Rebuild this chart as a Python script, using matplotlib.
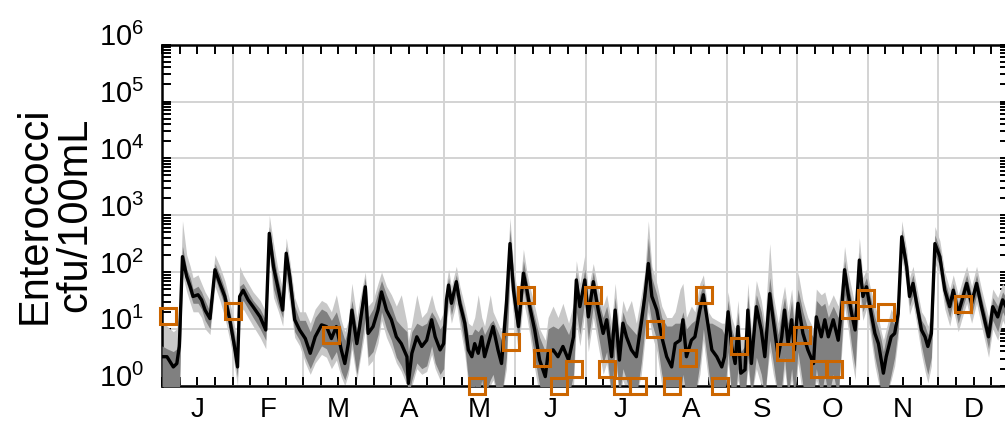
import numpy as np
import matplotlib
matplotlib.use("Agg")
import matplotlib.pyplot as plt
import matplotlib.transforms as mtransforms
from matplotlib.ticker import LogLocator, NullFormatter, FixedLocator

plt.rcParams['font.family'] = ['Liberation Sans', 'DejaVu Sans']
plt.rcParams['mathtext.fontset'] = 'custom'
plt.rcParams['mathtext.rm'] = 'Liberation Sans'
plt.rcParams['mathtext.it'] = 'Liberation Sans:italic'
plt.rcParams['mathtext.bf'] = 'Liberation Sans:bold'

# months (x axis, in months from 1 Jan)
months = ['J', 'F', 'M', 'A', 'M', 'J', 'J', 'A', 'S', 'O', 'N', 'D']
decades = [0, 1, 2, 3, 4, 5, 6]

# model vertices: position in months
t_month = [
    0.00, 0.07, 0.16, 0.21, 0.245, 0.29, 0.35, 0.40, 0.44, 0.51, 0.56, 0.61, 0.68, 0.75, 0.82, 0.89, 0.96,
    1.02, 1.07, 1.10, 1.15, 1.22, 1.29, 1.39, 1.47, 1.52, 1.58, 1.65, 1.71, 1.76, 1.81, 1.88, 1.95,
    2.03, 2.10, 2.17, 2.26, 2.33, 2.40, 2.47, 2.54, 2.59, 2.64, 2.69, 2.76, 2.80, 2.88, 2.92, 2.99,
    3.06, 3.11, 3.18, 3.25, 3.32, 3.39, 3.47, 3.49, 3.54, 3.61, 3.68, 3.75, 3.82, 3.87, 3.94, 3.99, 4.03,
    4.06, 4.10, 4.17, 4.22, 4.29, 4.34, 4.39, 4.43, 4.48, 4.53, 4.57, 4.65, 4.69, 4.76, 4.81, 4.88, 4.93, 4.98,
    5.05, 5.12, 5.17, 5.21, 5.28, 5.35, 5.43, 5.47, 5.54, 5.61, 5.68, 5.76, 5.83, 5.87, 5.92,
    5.99, 6.04, 6.11, 6.18, 6.25, 6.30, 6.37, 6.42, 6.48, 6.53, 6.58, 6.65, 6.72, 6.79, 6.84, 6.89, 6.94,
    7.01, 7.08, 7.15, 7.22, 7.27, 7.34, 7.38, 7.43, 7.50, 7.55, 7.62, 7.67, 7.74, 7.79, 7.86, 7.93, 7.97,
    8.02, 8.07, 8.12, 8.16, 8.20, 8.26, 8.30, 8.35, 8.42, 8.49, 8.54, 8.61, 8.66, 8.73, 8.78, 8.82, 8.87, 8.92, 8.96,
    9.01, 9.08, 9.15, 9.23, 9.27, 9.34, 9.39, 9.44, 9.51, 9.58, 9.63, 9.67, 9.72, 9.77, 9.82, 9.88,
    9.93, 9.98, 10.03, 10.10, 10.15, 10.19, 10.22, 10.26, 10.33, 10.38, 10.43, 10.48, 10.55, 10.59, 10.64, 10.69,
    10.76, 10.81, 10.85, 10.90, 10.95, 11.02, 11.09, 11.16, 11.21, 11.28, 11.35, 11.40, 11.47, 11.54, 11.61,
    11.71, 11.77, 11.84, 11.91, 11.98, 12.00,
]

# model median, log10(cfu/100mL)
median_log = [
    0.51, 0.51, 0.33, 0.39, 0.69, 2.27, 1.92, 1.74, 1.57, 1.60, 1.51, 1.33, 1.18, 2.04, 1.80, 1.57, 1.16,
    0.74, 0.33, 1.57, 1.68, 1.51, 1.39, 1.21, 0.98, 2.68, 2.09, 1.68, 1.33, 2.33, 1.92, 1.16, 0.98,
    0.83, 0.57, 0.86, 1.07, 1.04, 0.83, 1.04, 0.63, 0.39, 0.74, 1.33, 0.74, 1.04, 1.74, 0.92, 1.04,
    1.33, 1.65, 1.33, 1.16, 0.86, 0.74, 0.51, 0.04, 0.57, 0.86, 0.69, 0.80, 1.16, 0.86, 0.63, 0.74, 1.51,
    1.77, 1.45, 1.83, 1.45, 1.10, 0.63, 0.51, 0.74, 0.57, 0.86, 0.51, 0.86, 1.04, 0.63, 0.39, 1.45, 2.50, 1.68,
    1.04, 1.98, 1.68, 1.39, 0.98, 0.45, 0.16, 0.57, 0.63, 0.51, 0.69, 0.45, 0.86, 1.86, 1.39,
    1.86, 1.21, 1.83, 1.33, 0.92, 1.16, 0.51, 1.33, 0.45, 1.10, 0.86, 0.63, 0.51, 1.10, 1.57, 2.15, 1.57,
    1.33, 0.86, 0.51, 0.33, 0.74, 0.80, 1.16, 0.51, 0.80, 0.86, 1.33, 1.60, 1.04, 0.63, 0.51, 0.33, 0.51,
    1.30, 0.69, 0.39, 1.04, 0.22, 0.28, 1.33, 0.39, 1.39, 0.98, 0.51, 1.62, 1.16, 0.51, 0.86, 1.33, 0.74, 1.16, 0.63,
    1.45, 0.92, 0.63, 0.39, 1.21, 0.86, 1.16, 0.86, 1.16, 0.80, 1.39, 2.04, 1.62, 1.27, 0.98, 2.21,
    1.57, 1.74, 1.39, 0.92, 0.74, 0.45, 0.22, 0.51, 0.86, 0.92, 1.27, 2.62, 2.09, 1.57, 1.80, 1.45,
    0.98, 0.86, 0.69, 0.92, 2.50, 2.27, 1.68, 1.39, 1.68, 1.27, 1.57, 1.80, 1.45, 1.80, 1.39,
    0.86, 1.39, 1.21, 1.51, 1.33, 1.30,
]

# inner band (dark grey), log10
inner_lo = [
    -0.2, -0.2, -0.2, -0.2, -0.2, 2.1, 1.8, 1.6, 1.45, 1.45, 1.35, 1.15, 1.0, 1.9, 1.65, 1.4, 0.95,
    0.55, 0.15, 1.4, 1.5, 1.35, 1.2, 1.0, 0.8, 2.45, 1.7, 1.4, 1.2, 2.0, 1.6, 0.95, 0.8,
    0.5, 0.3, 0.5, 0.7, 0.65, 0.45, 0.6, 0.25, 0.1, 0.3, 0.8, 0.2, 0.5, 1.2, 0.5, 0.6,
    0.9, 1.3, 1.0, 0.8, 0.5, 0.35, 0.1, -0.2, 0.1, 0.4, 0.3, 0.35, 0.7, 0.4, 0.2, 0.3, 1.2,
    1.55, 1.25, 1.6, 1.2, 0.7, 0.1, -0.2, 0.0, -0.2, 0.1, -0.2, 0.1, 0.2, -0.2, -0.2, 0.5, 2.1, 1.4,
    0.8, 1.7, 1.4, 1.05, 0.5, 0.0, -0.2, -0.2, -0.2, -0.2, -0.2, -0.2, 0.2, 1.3, 0.9,
    1.5, 0.8, 1.4, 0.9, 0.4, 0.6, -0.2, 0.7, -0.2, 0.3, 0.1, -0.2, -0.2, 0.4, 1.0, 1.5, 1.1,
    0.8, 0.2, -0.2, -0.2, -0.2, -0.2, 0.2, -0.2, -0.2, -0.2, 0.4, 1.0, 0.3, -0.2, -0.2, -0.2, -0.2,
    0.6, -0.2, -0.2, 0.3, -0.2, -0.2, 0.5, -0.2, 0.5, 0.2, -0.2, 0.8, 0.4, -0.2, 0.0, 0.5, -0.2, 0.3, -0.2,
    0.6, 0.0, -0.2, -0.2, 0.3, -0.2, 0.2, -0.2, 0.2, -0.2, 0.8, 1.6, 1.2, 0.7, 0.3, 1.8,
    1.3, 1.5, 1.1, 0.5, 0.2, -0.2, -0.2, -0.2, 0.2, 0.5, 1.0, 2.4, 1.9, 1.4, 1.6, 1.25,
    0.7, 0.4, 0.2, 0.5, 2.3, 2.1, 1.5, 1.2, 1.5, 1.1, 1.4, 1.6, 1.25, 1.6, 1.2,
    0.65, 1.15, 0.95, 1.3, 1.1, 1.1,
]
inner_hi = [
    0.7, 0.65, 0.6, 0.65, 1.0, 2.45, 2.05, 1.9, 1.7, 1.75, 1.65, 1.5, 1.3, 2.15, 1.95, 1.7, 1.3,
    0.95, 0.55, 1.75, 1.8, 1.65, 1.5, 1.35, 1.15, 2.8, 2.3, 1.85, 1.55, 2.45, 2.05, 1.4, 1.15,
    1.15, 0.95, 1.2, 1.35, 1.3, 1.15, 1.3, 1.0, 0.8, 1.0, 1.5, 1.0, 1.3, 1.9, 1.2, 1.35,
    1.65, 1.85, 1.6, 1.4, 1.15, 1.05, 0.95, 0.6, 0.95, 1.1, 1.05, 1.1, 1.3, 1.2, 1.0, 1.1, 1.7,
    1.9, 1.6, 1.95, 1.6, 1.25, 0.9, 0.9, 1.0, 0.95, 1.05, 0.9, 1.1, 1.15, 0.95, 0.8, 1.7, 2.75, 1.95,
    1.3, 2.2, 1.85, 1.55, 1.2, 0.85, 0.6, 1.0, 1.05, 1.0, 1.1, 0.9, 1.2, 2.0, 1.55,
    2.05, 1.5, 2.0, 1.5, 1.2, 1.4, 0.9, 1.55, 0.8, 1.3, 1.1, 1.0, 0.9, 1.4, 1.8, 2.6, 1.9,
    1.6, 1.2, 1.05, 1.05, 1.1, 1.1, 1.3, 1.0, 1.1, 1.15, 1.6, 1.8, 1.1, 1.1, 1.05, 1.0, 0.9,
    1.5, 1.0, 0.8, 1.3, 0.6, 0.7, 1.6, 0.8, 1.6, 1.3, 0.9, 1.9, 1.4, 0.9, 1.3, 1.55, 1.1, 1.5, 1.0,
    1.7, 1.3, 1.0, 0.85, 1.5, 1.4, 1.45, 1.2, 1.4, 1.2, 1.65, 2.2, 1.8, 1.5, 1.2, 2.35,
    1.75, 1.9, 1.6, 1.2, 1.0, 0.8, 0.6, 0.85, 1.2, 1.05, 1.4, 2.75, 2.25, 1.75, 1.95, 1.6,
    1.15, 1.05, 0.9, 1.1, 2.65, 2.4, 1.85, 1.55, 1.8, 1.45, 1.75, 1.95, 1.6, 1.95, 1.55,
    1.05, 1.55, 1.4, 1.65, 1.5, 1.45,
]

# outer band (light grey), log10
outer_lo = [
    -0.2, -0.2, -0.2, -0.2, -0.2, 1.95, 1.65, 1.45, 1.3, 1.3, 1.2, 1.0, 0.9, 1.75, 1.5, 1.2, 0.8,
    0.4, 0.0, 1.2, 1.35, 1.2, 1.05, 0.85, 0.65, 2.3, 1.55, 1.3, 1.05, 1.85, 1.45, 0.85, 0.7,
    0.4, 0.2, 0.4, 0.55, 0.5, 0.3, 0.45, 0.15, 0.0, 0.2, 0.65, 0.1, 0.4, 1.0, 0.35, 0.45,
    0.75, 1.15, 0.85, 0.65, 0.4, 0.25, 0.0, -0.2, 0.0, 0.3, 0.2, 0.25, 0.55, 0.3, 0.1, 0.2, 1.05,
    1.4, 1.1, 1.45, 1.05, 0.55, 0.0, -0.2, -0.2, -0.2, 0.0, -0.2, 0.0, 0.1, -0.2, -0.2, 0.3, 1.9, 1.2,
    0.6, 1.5, 1.2, 0.9, 0.3, -0.2, -0.2, -0.2, -0.2, -0.2, -0.2, -0.2, 0.0, 1.1, 0.7,
    1.3, 0.6, 1.2, 0.7, 0.2, 0.4, -0.2, 0.5, -0.2, 0.1, -0.1, -0.2, -0.2, 0.2, 0.8, 1.3, 0.9,
    0.6, 0.0, -0.2, -0.2, -0.2, -0.2, 0.0, -0.2, -0.2, -0.2, 0.2, 0.8, 0.1, -0.2, -0.2, -0.2, -0.2,
    0.4, -0.2, -0.2, 0.1, -0.2, -0.2, 0.3, -0.2, 0.3, 0.0, -0.2, 0.6, 0.2, -0.2, -0.2, 0.3, -0.2, 0.1, -0.2,
    0.4, -0.2, -0.2, -0.2, 0.1, -0.2, 0.0, -0.2, 0.0, -0.2, 0.6, 1.4, 1.0, 0.5, 0.1, 1.6,
    1.15, 1.35, 0.95, 0.35, 0.05, -0.2, -0.2, -0.2, 0.1, 0.35, 0.85, 2.25, 1.75, 1.25, 1.45, 1.1,
    0.55, 0.25, 0.05, 0.35, 2.15, 1.95, 1.35, 1.05, 1.35, 0.95, 1.25, 1.45, 1.1, 1.45, 1.05,
    0.5, 1.0, 0.8, 1.15, 0.95, 0.95,
]
outer_hi = [
    1.1, 1.05, 0.95, 1.0, 1.3, 2.9, 2.3, 2.1, 1.9, 1.95, 1.8, 1.65, 1.5, 2.3, 2.1, 1.85, 1.5,
    1.1, 0.75, 2.1, 1.95, 1.8, 1.65, 1.5, 1.3, 3.0, 2.5, 2.0, 1.7, 2.6, 2.2, 1.55, 1.3,
    1.3, 1.1, 1.35, 1.5, 1.45, 1.3, 1.6, 1.15, 0.95, 1.15, 1.8, 1.2, 1.5, 2.0, 1.4, 1.5,
    1.8, 2.0, 1.75, 1.6, 1.4, 1.6, 1.1, 0.8, 1.1, 1.6, 1.2, 1.3, 1.6, 1.35, 1.15, 1.3, 1.8,
    2.05, 1.75, 2.1, 1.75, 1.4, 1.1, 1.05, 1.2, 1.6, 1.2, 1.05, 1.6, 1.3, 1.1, 0.95, 1.9, 2.95, 2.1,
    1.5, 2.4, 2.0, 1.75, 1.4, 1.0, 0.8, 1.2, 1.4, 1.2, 1.45, 1.1, 1.45, 2.2, 1.8,
    2.3, 1.7, 2.15, 1.7, 1.4, 1.6, 1.1, 1.8, 1.0, 1.5, 1.3, 1.5, 1.1, 1.6, 2.0, 2.9, 2.1,
    1.8, 1.4, 1.2, 1.2, 1.3, 1.7, 1.8, 1.2, 1.4, 1.3, 1.8, 1.95, 1.3, 1.2, 1.15, 1.1, 1.1,
    1.65, 1.2, 1.0, 1.5, 0.8, 0.9, 1.8, 1.0, 1.85, 1.5, 1.1, 2.5, 1.6, 1.1, 1.5, 1.75, 1.3, 1.7, 1.2,
    2.0, 1.5, 1.2, 1.0, 1.7, 1.6, 1.65, 1.4, 1.6, 1.4, 1.85, 2.45, 2.0, 1.7, 1.4, 2.6,
    1.9, 2.05, 1.75, 1.4, 1.2, 0.95, 0.8, 1.0, 1.35, 1.2, 1.55, 2.9, 2.4, 1.9, 2.1, 1.75,
    1.3, 1.2, 1.05, 1.25, 2.8, 2.55, 2.0, 1.7, 1.95, 1.6, 1.9, 2.1, 1.75, 2.1, 1.7,
    1.2, 1.7, 1.55, 1.8, 1.65, 1.6,
]

# observed samples
sample_month = [0.085, 1.00, 2.40, 4.46, 4.95, 5.16, 5.38, 5.62, 5.84, 6.10, 6.30, 6.52, 6.75, 6.98,
                7.22, 7.45, 7.68, 7.91, 8.17, 8.82, 9.06, 9.31, 9.52, 9.75, 9.97, 10.26, 11.35]
sample_log = [1.23, 1.31, 0.90, 0.0, 0.77, 1.60, 0.48, 0.0, 0.29, 1.60, 0.29, 0.0, 0.0, 1.00,
              0.0, 0.48, 1.60, 0.0, 0.70, 0.60, 0.90, 0.29, 0.29, 1.34, 1.54, 1.30, 1.44]

fig = plt.figure(figsize=(10.05, 4.25), dpi=100)
ax = fig.add_axes([0.1612, 0.0925, 0.8428, 0.8024])

t = np.array(t_month)
ax.fill_between(t, 10 ** np.array(outer_lo), 10 ** np.array(outer_hi), color='#c8c8c8', lw=0, zorder=2)
ax.fill_between(t, 10 ** np.array(inner_lo), 10 ** np.array(inner_hi), color='#808080', lw=0, zorder=3)
ax.plot(t, 10 ** np.array(median_log), color='black', lw=2.4, zorder=4)
ax.plot(sample_month, 10 ** np.array(sample_log), 's', mfc='none', mec='#cc6600',
        ms=11, mew=2.2, clip_on=False, zorder=6)

ax.set_yscale('log')
ax.set_ylim(1, 1e6)
ax.set_xlim(0, 12)

ax.set_yticks([10.0 ** d for d in decades])
ax.set_yticklabels([r'$\mathdefault{10^{%d}}$' % d for d in decades])
ax.yaxis.set_minor_locator(LogLocator(base=10, subs=np.arange(2, 10), numticks=20))
ax.yaxis.set_minor_formatter(NullFormatter())

ax.set_xticks(np.arange(0, 13, 1))
ax.set_xticklabels([])
quarters = [q / 4 for q in range(1, 48) if q % 4 != 0]
ax.xaxis.set_minor_locator(FixedLocator(quarters))
ax.set_xticklabels([months[int(q)] if q % 1 == 0.5 else '' for q in quarters], minor=True)

ax.grid(True, which='major', color='#d3d3d3', lw=1.4, zorder=1)
ax.set_axisbelow(True)

ax.tick_params(which='both', direction='in', top=True, right=True, length=6.5, width=1.4)
ax.tick_params(axis='y', which='major', labelsize=21, pad=13)
ax.tick_params(axis='x', which='minor', labelsize=20, pad=8)
for s in ax.spines.values():
    s.set_linewidth(1.8)

# the decade labels sit a little above their gridlines
shift = mtransforms.ScaledTranslation(0, 0.10, fig.dpi_scale_trans)
for lbl in ax.get_yticklabels():
    lbl.set_transform(lbl.get_transform() + shift)

ax.set_ylabel('Enterococci\ncfu/100mL', fontsize=30, linespacing=1.0)
ax.yaxis.set_label_coords(-0.079, 0.5)

fig.savefig('out.png', dpi=100)
